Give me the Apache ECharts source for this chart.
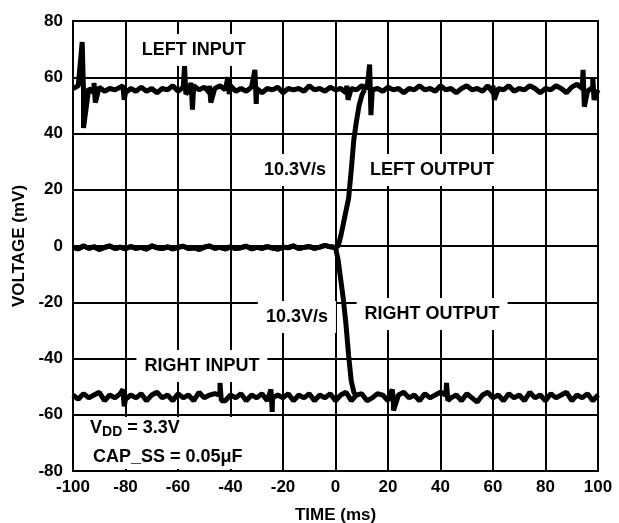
<!DOCTYPE html>
<html>
<head>
<meta charset="utf-8">
<script src="https://cdn.jsdelivr.net/npm/echarts@6/dist/echarts.min.js"></script>
<style>
html,body{margin:0;padding:0;background:#fff;}
#chart{width:619px;height:523px;}
</style>
</head>
<body>
<div id="chart"></div>
<script>
var FONT = '"Liberation Sans", Arial, sans-serif';
var INK = "#000";

// input traces sampled every 2 ms from -100 to 100
var T_START = -100, T_STEP = 2;
var leftInput = [
	56, 57, 55, 56, 54.5, 56.5, 55, 56, 55.5, 56.5,
	54.5, 56, 55, 56.5, 55, 56, 54.5, 56, 55.5, 57,
	55, 56.5, 55, 57, 55.5, 56.5, 54.5, 56, 57, 55.5,
	57, 55, 56, 55, 56.5, 56, 54.5, 56, 55.5, 56.5,
	54.5, 56, 55.5, 56, 55, 57, 55.5, 56, 55, 56.5,
	55.5, 56, 54.5, 56, 55.5, 57, 56, 55.5, 56, 55,
	56.5, 55.5, 56, 54.5, 56, 55.5, 57, 55.5, 56, 55,
	57, 55.5, 56, 54.5, 56, 57, 55.5, 56, 55, 57,
	54.5, 56, 55.5, 57, 55, 56, 55.5, 57, 56, 54.5,
	56, 55.5, 57, 56, 54.5, 56.5, 57.5, 56, 55, 56.5,
	55.5
];
var rightInput = [
	-53, -54.5, -52.5, -54, -53, -52, -55, -53, -54, -52.5,
	-54.5, -53, -54, -52.5, -55, -53, -52, -54, -53, -55,
	-52.5, -54, -53, -55, -52, -54, -53, -52.5, -53, -55,
	-53, -54, -52.5, -55, -53, -54, -52.5, -55, -54, -53,
	-54, -52.5, -55, -53, -54, -52.5, -55, -53, -54, -52.5,
	-55, -53, -52, -55, -53, -52.5, -55, -54, -52.5, -53,
	-55, -54, -53, -52, -54, -53, -55, -52.5, -54, -53,
	-52, -53, -54, -53, -55, -52.5, -54, -55.5, -53, -52,
	-54, -53, -55, -52.5, -54, -53, -55, -52, -54, -53,
	-55, -52.5, -54, -53, -52, -55, -53, -54, -52.5, -55,
	-53
];
// glitches on the inputs: [time, peak, trough]
var leftSpikes = [
	[-96.5, 72.5, 42], [-92, 58, 51], [-81, 57, 52], [-57.5, 64, 54],
	[-55, 58, 48.5], [-48, 57, 51], [-41, 60, 54], [-30.7, 62.6, 50.5],
	[4.3, 57, 52], [13, 64.5, 46.5], [60, 57, 52], [94.3, 62.6, 49.5], [98, 60, 52]
];
var rightSpikes = [
	[-81, -51, -57], [-44, -48.7, -55], [-24.6, -51, -59], [21.6, -51, -58.5], [42.3, -48.7, -55]
];
// both outputs sit at 0 before the soft-start ramp (-100..0, 2 ms)
var outputIdle = [
	-0.5, -1, 0, -0.8, -0.3, -1.2, -0.5, 0, -0.9, -0.4,
	-1, -0.2, -0.8, -0.5, -1.1, 0, -0.6, -0.9, -0.3, -1,
	-0.5, -0.1, -0.9, -0.6, -1.2, -0.4, 0, -0.8, -0.5, -1,
	-0.3, -0.9, -0.6, -0.1, -1, -0.5, -0.8, -0.2, -0.7, -1.1,
	-0.4, -0.6, 0, -0.9, -0.5, -0.2, -0.8, -0.4, 0.2, -0.3,
	-0.5
];
// ramps after t = 0 (1 ms steps)
var rampTime = [1, 2, 3, 4, 5, 6, 7, 8, 9, 10, 11];
var leftRamp = [0, 3.5, 8, 12.5, 17, 27, 38, 44.5, 50, 53.5, 55.5];
var rightRamp = [-5, -12, -19, -28, -39, -48, -52, -53.5];

var notes = [
	{ text: "LEFT INPUT", t: -54, v: 69.7 },
	{ text: "10.3V/s", t: -15.4, v: 27 },
	{ text: "LEFT OUTPUT", t: 36.8, v: 27 },
	{ text: "10.3V/s", t: -14.7, v: -25.2 },
	{ text: "RIGHT OUTPUT", t: 36.8, v: -24.2 },
	{ text: "RIGHT INPUT", t: -50.9, v: -42.7 }
];

function sampled(values) {
	return values.map(function(v, i) {
		return [T_START + i * T_STEP, v];
	});
}
function withSpikes(values, spikes) {
	var pts = sampled(values);
	spikes.forEach(function(s) {
		pts.push([s[0], s[1]], [s[0] + 0.5, s[2]]);
	});
	return pts.sort(function(a, b) { return a[0] - b[0]; });
}
function withRamp(ramp) {
	var pts = sampled(outputIdle);
	for (var i = 0; i < ramp.length; i++) {
		pts.push([rampTime[i], ramp[i]]);
	}
	return pts;
}

function trace(name, data) {
	return {
		name: name,
		type: "line",
		data: data,
		symbol: "none",
		silent: true,
		lineStyle: { color: INK, width: 5 }
	};
}

var chart = echarts.init(document.getElementById("chart"));
var axisStyle = {
	axisLine: { show: true, onZero: false, lineStyle: { color: INK, width: 2 } },
	axisTick: { show: false },
	splitLine: { show: true, lineStyle: { color: INK, width: 2 } }
};
var option = {
	animation: false,
	backgroundColor: "#fff",
	grid: {
		left: 73, right: 21, top: 21, bottom: 52,
		containLabel: false, outerBoundsMode: "none",
		show: true, borderColor: INK, borderWidth: 2
	},
	xAxis: Object.assign({
		type: "value",
		min: -100,
		max: 100,
		interval: 20,
		name: "TIME (ms)",
		nameLocation: "middle",
		nameGap: 36,
		nameTextStyle: { color: INK, fontFamily: FONT, fontWeight: "bold", fontSize: 17 },
		axisLabel: { color: INK, fontFamily: FONT, fontWeight: "bold", fontSize: 17, margin: 8 }
	}, axisStyle),
	yAxis: Object.assign({
		type: "value",
		min: -80,
		max: 80,
		interval: 20,
		name: "VOLTAGE (mV)",
		nameLocation: "middle",
		nameGap: 45,
		nameTextStyle: { color: INK, fontFamily: FONT, fontWeight: "bold", fontSize: 17 },
		axisLabel: { color: INK, fontFamily: FONT, fontWeight: "bold", fontSize: 17, margin: 10 }
	}, axisStyle),
	series: [
		trace("LEFT INPUT", withSpikes(leftInput, leftSpikes)),
		trace("RIGHT INPUT", withSpikes(rightInput, rightSpikes)),
		trace("LEFT OUTPUT", withRamp(leftRamp)),
		trace("RIGHT OUTPUT", withRamp(rightRamp))
	]
};
chart.setOption(option);

// annotations, placed from data coordinates
var graphics = notes.map(function(n) {
	var p = chart.convertToPixel({ gridIndex: 0 }, [n.t, n.v]);
	return {
		type: "text",
		z: 100,
		x: p[0],
		y: p[1],
		style: {
			text: n.text,
			fill: INK,
			font: "bold 18px " + FONT,
			align: "center",
			verticalAlign: "middle",
			backgroundColor: "#fff",
			padding: [7, 8]
		}
	};
});
var boxA = chart.convertToPixel({ gridIndex: 0 }, [-99.3, -60.8]);
var boxB = chart.convertToPixel({ gridIndex: 0 }, [-25.5, -79.3]);
graphics.push({
	type: "rect",
	z: 99,
	shape: { x: boxA[0], y: boxA[1], width: boxB[0] - boxA[0], height: boxB[1] - boxA[1] },
	style: { fill: "#fff" }
});
var vdd = chart.convertToPixel({ gridIndex: 0 }, [-93.5, -64.7]);
var cap = chart.convertToPixel({ gridIndex: 0 }, [-92.4, -75]);
graphics.push({
	type: "text",
	z: 100,
	x: vdd[0],
	y: vdd[1],
	style: {
		text: "{v|V}{s|DD}{v| = 3.3V}",
		fill: INK,
		align: "left",
		verticalAlign: "middle",
		rich: {
			v: { font: "bold 18px " + FONT, fill: INK },
			s: { font: "bold 14px " + FONT, fill: INK, padding: [9, 0, 0, 0] }
		}
	}
});
graphics.push({
	type: "text",
	z: 100,
	x: cap[0],
	y: cap[1],
	style: {
		text: "CAP_SS = 0.05\u03bcF",
		fill: INK,
		font: "bold 18px " + FONT,
		align: "left",
		verticalAlign: "middle"
	}
});
chart.setOption({ graphic: graphics });
</script>
</body>
</html>
